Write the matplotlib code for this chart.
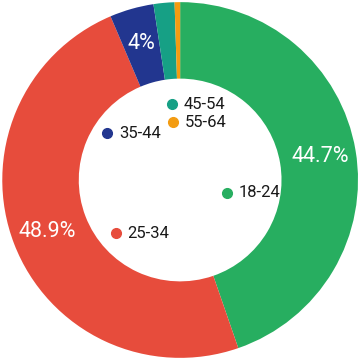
import matplotlib
matplotlib.use("Agg")
import matplotlib.pyplot as plt

categories = ["18-24", "25-34", "35-44", "45-54", "55-64"]
values = [44.7, 48.9, 4.0, 1.9, 0.5]
colors = ["#27ae60", "#e74c3c", "#22368f", "#16a085", "#f39c12"]
# legend label anchor positions inside the hole (data units, radius = 1)
label_pos = {
    "18-24": (0.265, -0.073),
    "25-34": (-0.36, -0.298),
    "35-44": (-0.41, 0.264),
    "45-54": (-0.045, 0.427),
    "55-64": (-0.039, 0.326),
}

plt.rcParams['font.family'] = ['Roboto', 'DejaVu Sans']

fig = plt.figure(figsize=(3.61, 3.60), dpi=100)
ax = fig.add_axes([0, 0, 1, 1])

def fmt(p):
    if p < 3:
        return ""
    s = f"{p:.1f}"
    if s.endswith(".0"):
        s = s[:-2]
    return s + "%"

wedges, texts, autotexts = ax.pie(
    values, colors=colors, startangle=90, counterclock=False,
    radius=1.0, wedgeprops=dict(width=0.43, edgecolor="none"),
    autopct=fmt, pctdistance=0.80,
    textprops=dict(color="white", fontsize=15.5),
)

for cat, col in zip(categories, colors):
    x, y = label_pos[cat]
    ax.plot([x], [y], marker="o", markersize=7, color=col, linestyle="none")
    ax.text(x + 0.065, y, cat, fontsize=12, color="#1a1a1a", va="center", ha="left")

ax.set_xlim(-1.012, 1.016)
ax.set_ylim(-1.012, 1.012)
ax.set_aspect("equal")
ax.axis("off")

fig.savefig("out.png", dpi=100)
